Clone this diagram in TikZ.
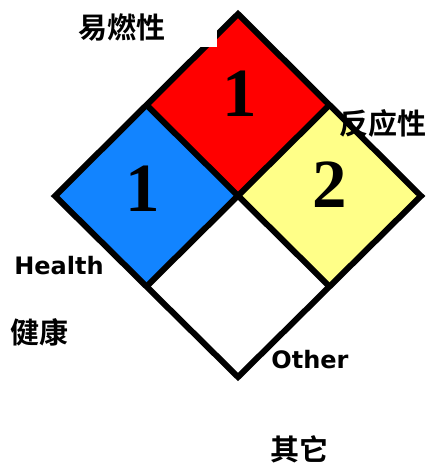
\documentclass[tikz,border=0pt]{standalone}
\usepackage{fontspec}
\newfontfamily\cjkfont{Noto Sans CJK SC}[BoldFont={Noto Sans CJK SC Bold}]
\newfontfamily\labfont{DejaVu Sans}
\newfontfamily\numfont{Liberation Serif}
\definecolor{nfpared}{RGB}{255,0,0}
\definecolor{nfpablue}{RGB}{18,132,255}
\definecolor{nfpayellow}{RGB}{255,255,136}
\tikzset{
  edge/.style={draw=black,line width=6pt,line join=miter},
  num/.style={inner sep=0pt,font=\numfont\bfseries\fontsize{69}{69}\selectfont},
  cjklab/.style={inner sep=0pt,font=\cjkfont\bfseries\fontsize{29}{29}\selectfont},
  enlab/.style={inner sep=0pt,font=\labfont\bfseries\fontsize{24}{24}\selectfont},
}
\begin{document}
\begin{tikzpicture}[x=1pt,y=-1pt]
\useasboundingbox (0,0) rectangle (430,465);
\coordinate (T) at (238,14);
\coordinate (L) at (55,196);
\coordinate (R) at (421,196);
\coordinate (B) at (238,377);
\coordinate (C) at (237.5,195);
\coordinate (TL) at (146.5,105);
\coordinate (TR) at (329.5,105);
\coordinate (BL) at (146.5,286.5);
\coordinate (BR) at (329.5,286.5);
% fills
\fill[nfpared] (T) -- (TR) -- (C) -- (TL) -- cycle;
\fill[nfpablue] (TL) -- (C) -- (BL) -- (L) -- cycle;
\fill[nfpayellow] (TR) -- (R) -- (BR) -- (C) -- cycle;
\fill[white] (C) -- (BR) -- (B) -- (BL) -- cycle;
% lines
\draw[edge] (T) -- (R) -- (B) -- (L) -- cycle;
\draw[edge] (TL) -- (BR);
\draw[edge] (TR) -- (BL);
% numbers
\node[num] (nfl) at (240,94) {1};
\node[num] (nhe) at (143,189) {1};
\node[num] (nre) at (330,185) {2};
% white patch behind the flammability label
\fill[white] (60,0) rectangle (217,47);
% labels
\node[cjklab] (lfl) at (122,28) {易燃性};
\node[cjklab] (lre) at (383,123) {反应性};
\node[enlab] (lhe) at (59,266) {Health};
\node[cjklab] (lhz) at (39,332) {健康};
\node[enlab] (lot) at (310,360) {Other};
\node[cjklab] (loz) at (299,449) {其它};
\end{tikzpicture}
\end{document}
